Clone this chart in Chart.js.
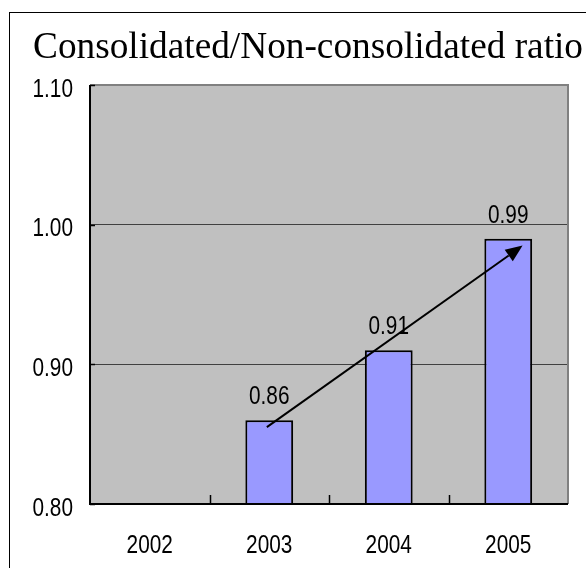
<!DOCTYPE html>
<html>
<head>
<meta charset="utf-8">
<script src="https://cdn.jsdelivr.net/npm/chart.js@4.4.1/dist/chart.umd.min.js"></script>
<style>
  html, body { margin: 0; padding: 0; background: #fff; overflow: hidden; }
  #frame { position: absolute; left: 9px; top: 12px; width: 660px; height: 660px; border: 1px solid #000; box-sizing: border-box; }
  #c { position: absolute; left: 0; top: 0; }
</style>
</head>
<body>
<div id="frame"></div>
<canvas id="c" width="586" height="568"></canvas>
<script>
// Chart content
const titleText = 'Consolidated/Non-consolidated ratio';
const years = ['2002', '2003', '2004', '2005'];
const ratios = [null, 0.86, 0.91, 0.99];
const yTicks = [0.80, 0.90, 1.00, 1.10];
// Trend arrow, in (category index, ratio) units
const trendFrom = { x: 0.98, y: 0.855 };
const trendTo = { x: 3.12, y: 0.985 };

const LABEL_FONT = '26px "Liberation Sans", Arial, sans-serif';
const TITLE_FONT = '37.3px "Liberation Serif", "Times New Roman", serif';
const NARROW = 0.8; // horizontal squeeze for the tall gothic-style numerals

// Draws a horizontally condensed string anchored at (x, y)
function narrowText(ctx, text, x, y, align) {
  ctx.save();
  ctx.translate(x, y);
  ctx.scale(NARROW, 1);
  ctx.textAlign = align;
  ctx.textBaseline = 'alphabetic';
  ctx.fillText(text, 0, 0);
  ctx.restore();
}

const decorations = {
  id: 'decorations',
  beforeDraw(chart) {
    const { ctx, chartArea: a } = chart;
    ctx.save();
    ctx.fillStyle = '#c0c0c0';
    ctx.fillRect(a.left, a.top, a.right - a.left, a.bottom - a.top);
    ctx.restore();
  },
  afterDatasetsDraw(chart) {
    const { ctx, chartArea: a, scales } = chart;
    const xs = scales.x, ys = scales.y;
    ctx.save();

    // plot frame: grey top/right, black axes left/bottom
    ctx.strokeStyle = '#808080';
    ctx.lineWidth = 2;
    ctx.beginPath();
    ctx.moveTo(a.left, a.top);
    ctx.lineTo(a.right, a.top);
    ctx.lineTo(a.right, a.bottom);
    ctx.stroke();

    ctx.strokeStyle = '#000';
    ctx.lineWidth = 2;
    ctx.beginPath();
    ctx.moveTo(a.left, a.top);
    ctx.lineTo(a.left, a.bottom);
    ctx.lineTo(a.right, a.bottom);
    ctx.stroke();

    // inward tick marks
    ctx.lineWidth = 1.5;
    ctx.beginPath();
    for (let i = 0; i < years.length - 1; i++) {
      const px = Math.round(xs.getPixelForValue(i + 0.5)) + 0.5;
      ctx.moveTo(px, a.bottom);
      ctx.lineTo(px, a.bottom - 9);
    }
    ys.ticks.forEach(t => {
      const py = Math.round(ys.getPixelForValue(t.value)) + 0.5;
      ctx.moveTo(a.left, py);
      ctx.lineTo(a.left + 5, py);
    });
    ctx.stroke();

    // axis labels
    ctx.fillStyle = '#000';
    ctx.font = LABEL_FONT;
    ys.ticks.forEach(t => {
      narrowText(ctx, Number(t.value).toFixed(2), a.left - 17, ys.getPixelForValue(t.value) + 11.5, 'right');
    });
    xs.ticks.forEach((t, i) => {
      narrowText(ctx, xs.getLabelForValue(t.value), xs.getPixelForTick(i), a.bottom + 49, 'center');
    });

    // value labels above bars
    const meta = chart.getDatasetMeta(0);
    meta.data.forEach((bar, i) => {
      const v = ratios[i];
      if (v === null || v === undefined) return;
      narrowText(ctx, v.toFixed(2), bar.x, bar.y - 16, 'center');
    });

    // trend arrow
    const x0 = xs.getPixelForValue(trendFrom.x), y0 = ys.getPixelForValue(trendFrom.y);
    const x1 = xs.getPixelForValue(trendTo.x), y1 = ys.getPixelForValue(trendTo.y);
    const ang = Math.atan2(y1 - y0, x1 - x0);
    const headLen = 17, headHalf = 7;
    const bx = x1 - headLen * Math.cos(ang), by = y1 - headLen * Math.sin(ang);
    ctx.strokeStyle = '#000';
    ctx.lineWidth = 2;
    ctx.beginPath();
    ctx.moveTo(x0, y0);
    ctx.lineTo(bx, by);
    ctx.stroke();
    ctx.beginPath();
    ctx.moveTo(x1, y1);
    ctx.lineTo(bx + headHalf * Math.sin(ang), by - headHalf * Math.cos(ang));
    ctx.lineTo(bx - headHalf * Math.sin(ang), by + headHalf * Math.cos(ang));
    ctx.closePath();
    ctx.fill();

    ctx.restore();
  },
  afterDraw(chart) {
    const { ctx } = chart;
    ctx.save();
    ctx.fillStyle = '#000';
    ctx.font = TITLE_FONT;
    ctx.textAlign = 'left';
    ctx.textBaseline = 'alphabetic';
    ctx.fillText(titleText, 33, 58);
    ctx.restore();
  }
};

function build() {
  new Chart(document.getElementById('c'), {
    type: 'bar',
    data: {
      labels: years,
      datasets: [{
        data: ratios,
        backgroundColor: '#9999ff',
        borderColor: '#000',
        borderWidth: 2,
        categoryPercentage: 1.0,
        barPercentage: 0.40
      }]
    },
    options: {
      responsive: false,
      animation: false,
      devicePixelRatio: 1,
      layout: { padding: { left: 0, right: 18, top: 85, bottom: 0 } },
      plugins: { legend: { display: false }, tooltip: { enabled: false }, title: { display: false } },
      scales: {
        x: {
          grid: { display: false, drawTicks: false },
          border: { display: false },
          ticks: { display: false },
          afterFit(scale) { scale.height = 64; }
        },
        y: {
          min: 0.80,
          max: 1.10,
          afterBuildTicks(scale) { scale.ticks = yTicks.map(v => ({ value: v })); },
          grid: {
            drawTicks: false,
            lineWidth: 1,
            color(c) {
              const v = c.tick ? c.tick.value : null;
              return (v !== null && Math.abs(v - 0.8) > 1e-6 && Math.abs(v - 1.1) > 1e-6) ? '#404040' : 'rgba(0,0,0,0)';
            }
          },
          border: { display: false },
          ticks: { display: false },
          afterFit(scale) { scale.width = 90; }
        }
      }
    },
    plugins: [decorations]
  });
}

if (document.fonts && document.fonts.load) {
  Promise.all([
    document.fonts.load('26px "Liberation Sans"'),
    document.fonts.load('37px "Liberation Serif"')
  ]).then(build, build);
} else {
  build();
}
</script>
</body>
</html>
